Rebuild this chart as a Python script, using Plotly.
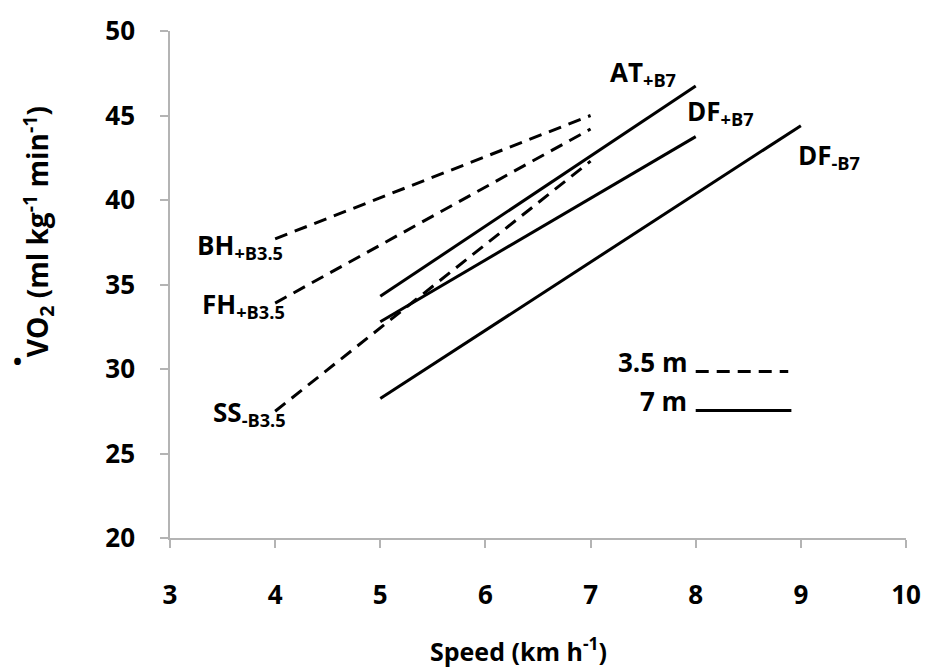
import plotly.graph_objects as go

# Oxygen uptake vs walking speed, regression lines per condition
speed_35 = [4, 7]          # 3.5 m conditions (dashed)
bh_b35 = [37.7, 45.0]
fh_b35 = [33.9, 44.2]
ss_b35 = [27.5, 42.3]

speed_at = [5, 8]
at_b7 = [34.3, 46.75]
speed_dfp = [5, 8]
df_pb7 = [32.8, 43.75]
speed_dfm = [5, 9]
df_mb7 = [28.25, 44.4]

x_ticks = [3, 4, 5, 6, 7, 8, 9, 10]
y_ticks = [20, 25, 30, 35, 40, 45, 50]

FONT = "Open Sans"
DASH = "13px,8px"

def txtfont(size):
    return dict(family=FONT, size=size, color="black")

fig = go.Figure()

def add_line(x, y, dashed):
    fig.add_trace(go.Scatter(
        x=x, y=y, mode="lines", showlegend=False, hoverinfo="skip",
        line=dict(color="black", width=3, dash=DASH if dashed else "solid"),
    ))

add_line(speed_35, bh_b35, True)
add_line(speed_35, fh_b35, True)
add_line(speed_35, ss_b35, True)
add_line(speed_at, at_b7, False)
add_line(speed_dfp, df_pb7, False)
add_line(speed_dfm, df_mb7, False)

# condition labels
labels = [
    ("<b>AT<sub>+B7</sub></b>", 7.17, 47.5),
    ("<b>DF<sub>+B7</sub></b>", 7.90, 45.2),
    ("<b>DF<sub>-B7</sub></b>", 8.95, 42.6),
    ("<b>BH<sub>+B3.5</sub></b>", 3.24, 37.3),
    ("<b>FH<sub>+B3.5</sub></b>", 3.29, 33.8),
    ("<b>SS<sub>-B3.5</sub></b>", 3.39, 27.4),
]
for txt, x, y in labels:
    fig.add_annotation(x=x, y=y, xref="x", yref="y", text=txt, showarrow=False,
                       xanchor="left", yanchor="middle", font=txtfont(26))

# key for line styles
fig.add_annotation(x=8.0, y=30.4, xref="x", yref="y", text="<b>3.5 m </b>", showarrow=False,
                   xanchor="right", yanchor="middle", font=txtfont(26))
fig.add_annotation(x=8.0, y=28.1, xref="x", yref="y", text="<b>7 m </b>", showarrow=False,
                   xanchor="right", yanchor="middle", font=txtfont(26))
fig.add_shape(type="line", xref="x", yref="y", x0=8.0, x1=8.88, y0=29.85, y1=29.85,
              line=dict(color="black", width=3, dash=DASH))
fig.add_shape(type="line", xref="x", yref="y", x0=8.0, x1=8.91, y0=27.55, y1=27.55,
              line=dict(color="black", width=3))

# axis titles
fig.add_annotation(x=0.473, y=-0.219, xref="paper", yref="paper",
                   text="<b>Speed (km h<sup>-1</sup>)</b>", showarrow=False,
                   xanchor="center", yanchor="middle", font=txtfont(25))
fig.add_annotation(x=0, y=0.603, xref="paper", yref="paper", xshift=-132,
                   text="<b>VO<sub>2</sub> (ml kg<sup>-1</sup> min<sup>-1</sup>)</b>",
                   showarrow=False, textangle=-90,
                   xanchor="center", yanchor="middle", font=txtfont(28))
fig.add_annotation(x=0, y=0.35, xref="paper", yref="paper", xshift=-153,
                   text="<b>•</b>", showarrow=False, xanchor="center", yanchor="middle",
                   font=txtfont(24))

axis_common = dict(
    showline=True, linecolor="#b4b4b4", linewidth=1.5,
    ticks="outside", ticklen=8, tickcolor="#b4b4b4", tickwidth=1.5,
    showgrid=False, zeroline=False,
    tickfont=txtfont(26),
)

fig.update_layout(
    width=933, height=667,
    margin=dict(l=170, r=21, t=26, b=129),
    paper_bgcolor="white", plot_bgcolor="white",
    xaxis=dict(range=[3, 10], tickvals=x_ticks, ticktext=[f"<b>{v}</b>" for v in x_ticks],
               ticklabelstandoff=25, **axis_common),
    yaxis=dict(range=[20, 50], tickvals=y_ticks, ticktext=[f"<b>{v}</b>" for v in y_ticks],
               ticklabelstandoff=20, **axis_common),
)

fig.write_html("out.html")
